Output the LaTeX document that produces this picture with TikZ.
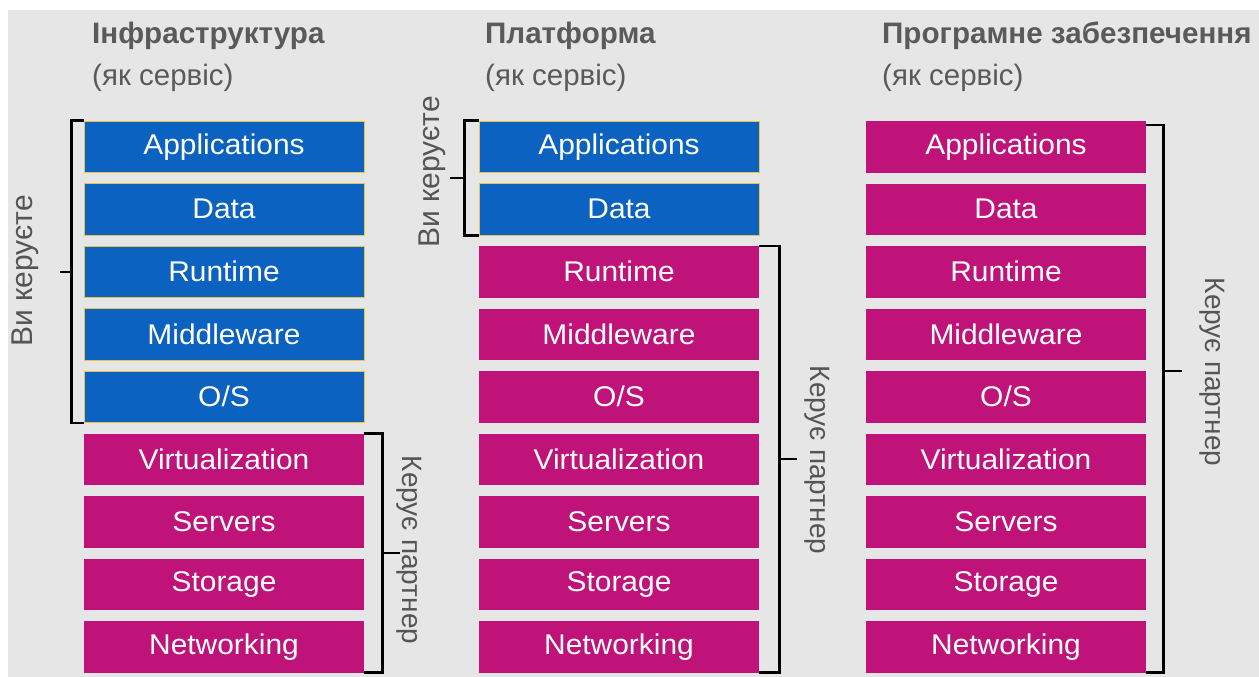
\documentclass[tikz,border=0pt]{standalone}
\usepackage{fontspec}
\setmainfont{Liberation Sans}
\newfontfamily\boxfont{Liberation Sans}[FakeStretch=1.05]
\definecolor{bgc}{HTML}{E6E6E6}
\definecolor{blu}{HTML}{0B62C0}
\definecolor{mag}{HTML}{C0137A}
\definecolor{ybord}{HTML}{E9C24A}
\definecolor{hdr}{HTML}{5A5A5A}
\definecolor{lab}{HTML}{555555}
\tikzset{
  layer/.style={minimum width=280pt, minimum height=51.5pt, inner sep=0pt, text=white,
    font=\boxfont\fontsize{28.5}{30}\selectfont},
  bluebox/.style={layer, fill=blu, draw=ybord, line width=1pt},
  magbox/.style={layer, fill=mag},
  brk/.style={line width=2.6pt, black},
  title/.style={anchor=base west, inner sep=0pt, text=hdr, font=\bfseries\fontsize{29.6}{32}\selectfont},
  subtitle/.style={anchor=base west, inner sep=0pt, text=hdr, font=\fontsize{29.5}{32}\selectfont},
  sidelab/.style={inner sep=0pt, text=lab, font=\fontsize{28}{30}\selectfont},
  sidelabB/.style={inner sep=0pt, text=lab, font=\fontsize{30}{32}\selectfont}
}
\begin{document}
\begin{tikzpicture}[x=1pt,y=-1pt]
\useasboundingbox (0,0) rectangle (1259,677);
\fill[white] (0,0) rectangle (1259,677);
\fill[bgc] (8,10) rectangle (1259,677);
% headers
\node[title] (h1) at (92,44) {Інфраструктура};
\node[subtitle] (s1) at (92,85) {(як сервіс)};
\node[title] (h2) at (485,44) {Платформа};
\node[subtitle] (s2) at (485,85) {(як сервіс)};
\node[title] (h3) at (882,44) {Програмне забезпечення};
\node[subtitle] (s3) at (882,85) {(як сервіс)};
% boxes
\foreach \t [count=\i] in {Applications,Data,Runtime,Middleware,O/S,Virtualization,Servers,Storage,Networking}{
  \pgfmathsetmacro{\yy}{121+62.5*(\i-1)+25.75}
  \ifnum\i<6
    \node[bluebox] (a\i) at (224,\yy) {\t};
  \else
    \node[magbox] (a\i) at (224,\yy) {\t};
  \fi
  \ifnum\i<3
    \node[bluebox] (b\i) at (619,\yy) {\t};
  \else
    \node[magbox] (b\i) at (619,\yy) {\t};
  \fi
  \node[magbox] (c\i) at (1006,\yy) {\t};
}
% bracket coordinates
\coordinate (k1) at (60,272);
\coordinate (k2) at (400,553);
\coordinate (k3) at (450,178);
\coordinate (k4) at (797,459);
\coordinate (k5) at (1182,371);
% column 1 left bracket
\draw[brk] (a1.north west) -- ++(-12,0) |- (a5.south west);
\draw[brk] (k1) -- ++(12,0);
% column 1 right bracket
\draw[brk] (a6.north east) -- ++(18,0) |- (a9.south east);
\draw[brk] (k2) -- ++(-18,0);
% column 2 left bracket
\draw[brk] (b1.north west) -- ++(-14,0) |- (b2.south west);
\draw[brk] (k3) -- ++(15,0);
% column 2 right bracket
\draw[brk] (b3.north east) -- ++(20,0) |- (b9.south east);
\draw[brk] (k4) -- ++(-18,0);
% column 3 right bracket
\draw[brk] ([yshift=-4pt]c1.north east) -- ++(17,0) |- (c9.south east);
\draw[brk] (k5) -- ++(-19,0);
% side labels
\node[sidelabB, rotate=90] (l1) at (25,271) {Ви керуєте};
\node[sidelabB, rotate=90] (l2) at (432,172) {Ви керуєте};
\node[sidelab, rotate=-90] (l3) at (409,550) {Керує партнер};
\node[sidelab, rotate=-90] (l4) at (817,460) {Керує партнер};
\node[sidelab, rotate=-90] (l5) at (1212,372) {Керує партнер};
\end{tikzpicture}
\end{document}
